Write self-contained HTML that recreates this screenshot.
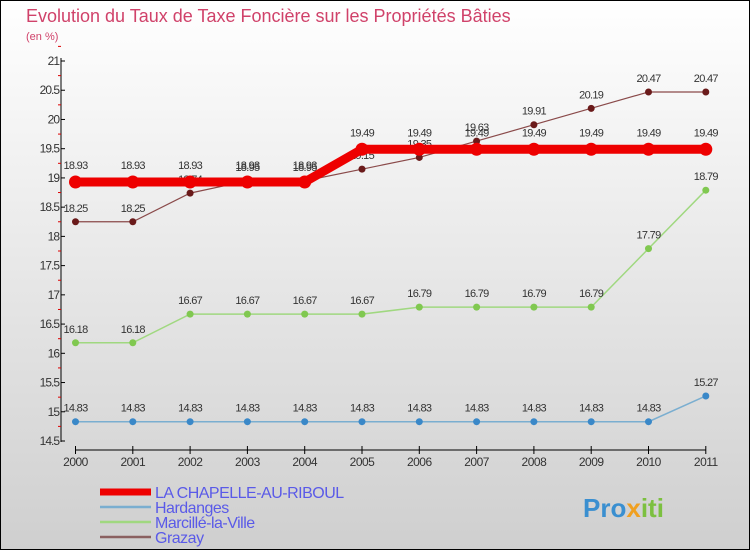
<!DOCTYPE html>
<html><head><meta charset="utf-8"><style>
body{margin:0}
#c{width:750px;height:550px;position:relative;overflow:hidden}
svg{font-family:"Liberation Sans",sans-serif}
</style></head><body>
<div id="c">
<svg width="750" height="550" id="s">
<defs><linearGradient id="bg" x1="0" y1="0" x2="0" y2="1"><stop offset="0" stop-color="#ffffff"/><stop offset="1" stop-color="#cfcfcf"/></linearGradient></defs>
<rect x="0.5" y="0.5" width="749" height="549" fill="url(#bg)" stroke="#000"/>
<text x="26" y="22" font-size="18" fill="#d0426a">Evolution du Taux de Taxe Foncière sur les Propriétés Bâties</text>
<text x="26" y="40" font-size="11" fill="#d0426a">(en %)</text>
<g id="axes"></g><g id="series"></g><g id="legend"></g>
<text x="583" y="517" font-size="26" font-weight="bold" fill="#3a8fd0">Pro<tspan fill="#f0a020">x</tspan><tspan fill="#7cc040">iti</tspan></text>
</svg></div>
<script>
const years=["2000","2001","2002","2003","2004","2005","2006","2007","2008","2009","2010","2011"];
const yTicks=[14.5,15,15.5,16,16.5,17,17.5,18,18.5,19,19.5,20,20.5,21];
const chapelle=[18.93,18.93,18.93,18.93,18.93,19.49,19.49,19.49,19.49,19.49,19.49,19.49];
const hardanges=[14.83,14.83,14.83,14.83,14.83,14.83,14.83,14.83,14.83,14.83,14.83,15.27];
const marcille=[16.18,16.18,16.67,16.67,16.67,16.67,16.79,16.79,16.79,16.79,17.79,18.79];
const grazay=[18.25,18.25,18.74,18.95,18.95,19.15,19.35,19.63,19.91,20.19,20.47,20.47];
const NS="http://www.w3.org/2000/svg";
const X=i=>75.5+i*57.3;
const Y=v=>441-(v-14.5)*(380/6.5);
function mk(t,a,p){const e=document.createElementNS(NS,t);for(const k in a)e.setAttribute(k,a[k]);p.appendChild(e);return e;}
const ax=document.getElementById('axes');
let e=mk('line',{x1:61,y1:58,x2:61,y2:442,stroke:'#000'},ax);


e=mk('line',{x1:75,y1:450,x2:706,y2:450,stroke:'#000'},ax);


yTicks.forEach(v=>{const y=Y(v);mk('line',{x1:61,y1:y,x2:65,y2:y,stroke:'#000'},ax);
 mk('line',{x1:58,y1:Y(v+0.25),x2:61,y2:Y(v+0.25),stroke:'#d00'},ax);
 const t=mk('text',{x:59,y:y+4,'font-size':12,'text-anchor':'end',fill:'#333','letter-spacing':'-1'},ax);t.textContent=String(v);
 
 });
years.forEach((yr,i)=>{mk('line',{x1:X(i),y1:446,x2:X(i),y2:454,stroke:'#000'},ax);
 const t=mk('text',{x:X(i),y:466,'font-size':12,'text-anchor':'middle',fill:'#333','letter-spacing':'-0.5'},ax);t.textContent=yr;
 
 });
const sg=document.getElementById('series');
function series(name,vals,col,w,r,dot,lab){
 const g=mk('g',{},sg);
 
 
 mk('polyline',{points:vals.map((v,i)=>X(i)+','+Y(v)).join(' '),fill:'none',stroke:col,'stroke-width':w},g);
 vals.forEach((v,i)=>{const c=mk('circle',{cx:X(i),cy:Y(v),r:r,fill:dot},g);
  
  
  const t=mk('text',{x:X(i),y:Y(v)-lab,'font-size':11,'text-anchor':'middle',fill:'#333','letter-spacing':'-0.7'},g);t.textContent=v.toFixed(2).replace(/0$/,'');});
}
series('series-grazay',grazay,'#8a4a4a',1.2,3.5,'#6a1a1a',10);
series('series-marcille',marcille,'#a0d880',1.5,3.5,'#80c850',10);
series('series-hardanges',hardanges,'#7aaed0',1.5,3.5,'#3a88c8',10);
series('series-chapelle',chapelle,'#ee0000',9,6.5,'#ee0000',13);
const lg=document.getElementById('legend');
[["LA CHAPELLE-AU-RIBOUL","#ee0000",7],["Hardanges","#7aaed0",2.5],["Marcillé-la-Ville","#a0d880",2.5],["Grazay","#8a6060",2.5]].forEach((d,i)=>{
 const y=492+i*15;
 const g=mk('g',{},lg);
 
 
 mk('line',{x1:100,y1:y,x2:151,y2:y,stroke:d[1],'stroke-width':d[2]},g);
 const t=mk('text',{x:155,y:y+6,'font-size':16,fill:'#5a5ae8','letter-spacing':'-0.5'},g);t.textContent=d[0];
});
</script>
</body></html>
